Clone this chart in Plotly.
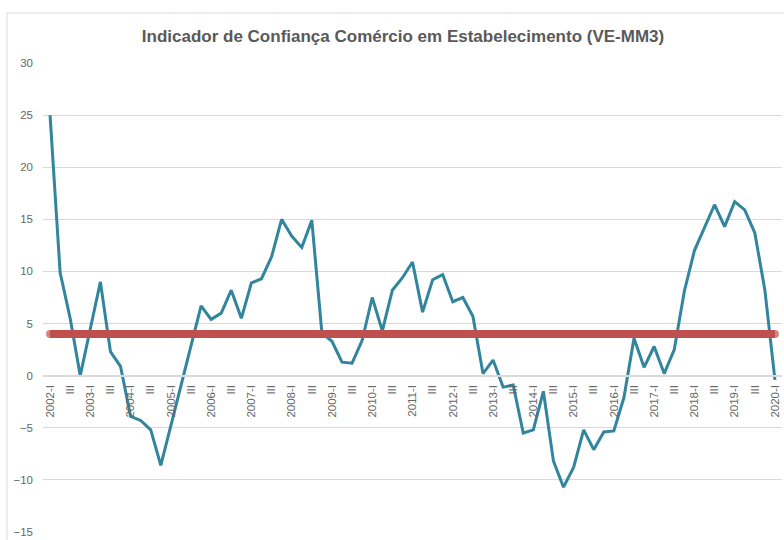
import plotly.graph_objects as go

years = list(range(2002, 2021))
quarters = ["I", "II", "III", "IV"]
categories = [f"{y}-{q}" for y in years for q in quarters][:73]

icom_values = [
    25.0, 9.9, 5.5, 0.0, 4.5, 9.0, 2.3, 0.9,
    -3.9, -4.3, -5.2, -8.6, -4.8, -1.0, 2.9, 6.7,
    5.4, 6.0, 8.2, 5.5, 8.9, 9.3, 11.4, 15.0,
    13.4, 12.3, 14.9, 4.1, 3.3, 1.3, 1.2, 3.4,
    7.5, 4.3, 8.2, 9.4, 10.9, 6.1, 9.2, 9.7,
    7.1, 7.5, 5.7, 0.2, 1.5, -1.1, -0.9, -5.5,
    -5.2, -1.5, -8.2, -10.7, -8.8, -5.2, -7.1, -5.4,
    -5.3, -2.1, 3.6, 0.8, 2.8, 0.2, 2.5, 8.1,
    12.0, 14.2, 16.4, 14.3, 16.7, 15.9, 13.7, 8.2,
    -0.4,
]
meta_value = 4.0
meta_values = [meta_value] * len(categories)

tick_cats = [c for c in categories if c.endswith("-I") or c.endswith("-III")]
tick_labels = [c if c.endswith("-I") else "III" for c in tick_cats]

W, H = 784, 540
ml, mr, mt, mb = 43, 2, 63, 8
pw = W - ml - mr
ph = H - mt - mb

fig = go.Figure()
fig.add_trace(go.Scatter(
    x=categories, y=icom_values, mode="lines",
    line=dict(color="#31859C", width=3),
    showlegend=False, hoverinfo="x+y",
))
msizes = [8] + [0] * (len(categories) - 2) + [8]
fig.add_trace(go.Scatter(
    x=categories, y=meta_values, mode="lines+markers",
    line=dict(color="#C0504D", width=8),
    marker=dict(size=msizes, color="#C0504D", line=dict(width=0)),
    showlegend=False, hoverinfo="y",
))

fig.update_layout(
    width=W, height=H,
    margin=dict(l=ml, r=mr, t=mt, b=mb, autoexpand=False),
    paper_bgcolor="white", plot_bgcolor="white",
    title=dict(
        text="Indicador de Confiança Comércio em Estabelecimento (VE-MM3)",
        x=403 / W, xanchor="center", y=1 - 36 / H, yanchor="middle",
        font=dict(family="Liberation Sans", size=17, color="#595959", weight="bold"),
    ),
    xaxis=dict(
        type="category",
        range=[-0.7, 72.7],
        tickmode="array", tickvals=tick_cats, ticktext=tick_labels,
        tickangle=-90,
        tickfont=dict(family="Liberation Sans", size=11.5, color="#666666"),
        showgrid=False, zeroline=False,
        showline=True, linecolor="#D9D9D9", linewidth=1.5,
        anchor="free", position=15 / 45,
        ticks="", ticklabelstandoff=4,
    ),
    yaxis=dict(
        range=[-15, 30], dtick=5, tick0=0,
        showgrid=True, gridcolor="#D9D9D9", gridwidth=1,
        zeroline=False, showline=False,
        tickfont=dict(family="Liberation Sans", size=11.5, color="#666666"),
        ticks="", ticklabelstandoff=9,
    ),
    shapes=[dict(
        type="rect", xref="paper", yref="paper",
        x0=(7 - ml) / pw, x1=(W + 20 - ml) / pw,
        y0=-0.2, y1=(H - mb - 13) / ph,
        line=dict(color="#D9D9D9", width=1), fillcolor="rgba(0,0,0,0)",
        layer="below",
    )],
)

fig.write_html(
    "out.html",
    config={"displayModeBar": False},
    post_script="document.body.style.margin='0px';",
)
